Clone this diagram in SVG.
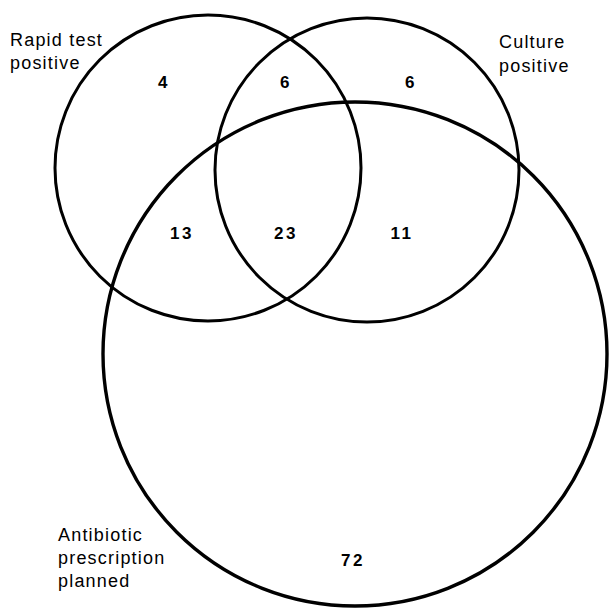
<svg xmlns="http://www.w3.org/2000/svg" width="609" height="608" viewBox="0 0 609 608">
<style>
.set{fill:none;stroke:#000;stroke-width:3}
.big{stroke-width:3.4}
.lbl{font-family:"Liberation Sans",Arial,sans-serif;font-size:18px;letter-spacing:1.2px;fill:#000}
.num{font-family:"Liberation Sans",Arial,sans-serif;font-size:17px;font-weight:bold;letter-spacing:2.5px;fill:#000;text-anchor:middle}
</style>
<rect width="609" height="608" fill="#fff"/>
<g id="rapid">
<circle class="set" cx="208" cy="168" r="153"/>
<text class="lbl" x="10" y="46">Rapid test</text>
<text class="lbl" x="10" y="69">positive</text>
</g>
<g id="culture">
<circle class="set" cx="367" cy="170" r="152"/>
<text class="lbl" x="499" y="48">Culture</text>
<text class="lbl" x="499" y="72">positive</text>
</g>
<g id="antibiotic">
<circle class="set big" cx="355" cy="354" r="252"/>
<text class="lbl" x="58" y="541">Antibiotic</text>
<text class="lbl" x="58" y="564">prescription</text>
<text class="lbl" x="58" y="587">planned</text>
</g>
<g id="counts">
<text class="num" x="164" y="88">4</text>
<text class="num" x="286" y="88">6</text>
<text class="num" x="411" y="88">6</text>
<text class="num" x="182" y="239">13</text>
<text class="num" x="286" y="239">23</text>
<text class="num" x="402" y="239">11</text>
<text class="num" x="353" y="566">72</text>
</g>
</svg>
